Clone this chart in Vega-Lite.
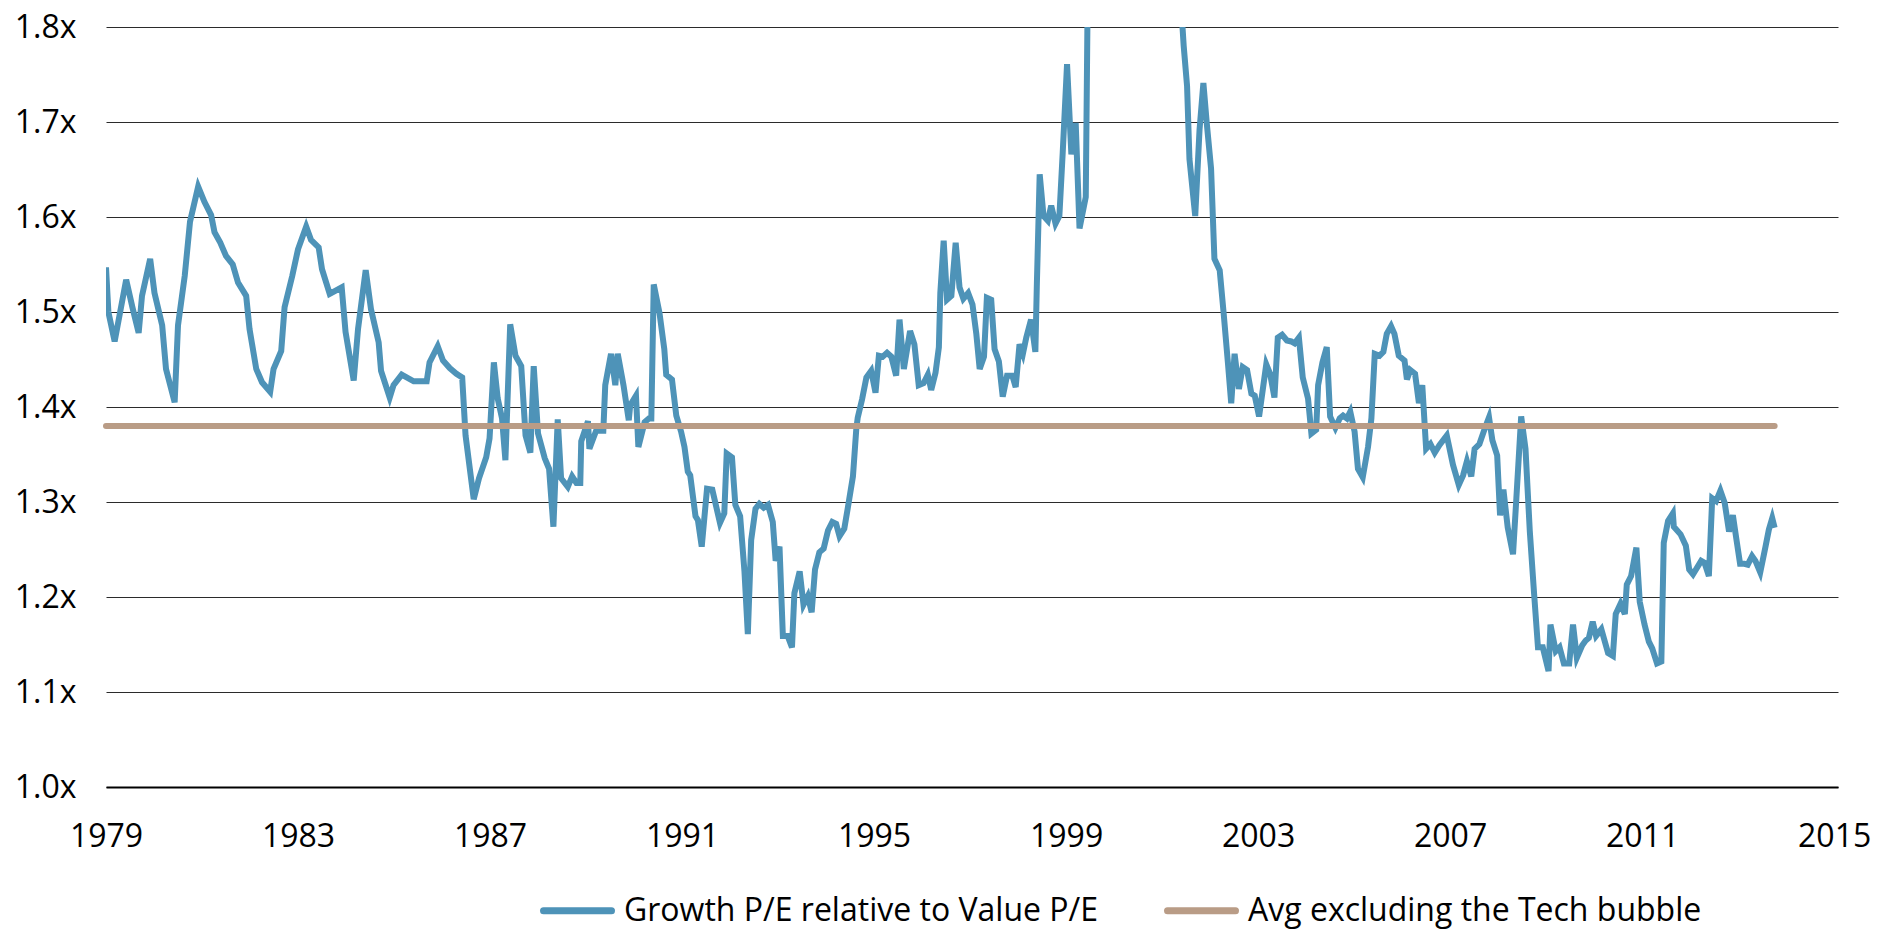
{
  "$schema": "https://vega.github.io/schema/vega-lite/v6.json",
  "autosize": {"type": "none"},
  "padding": {"left": 106, "top": 27, "right": 60, "bottom": 145},
  "width": 1732,
  "height": 760,
  "background": "white",
  "config": {
    "view": {"stroke": null},
    "font": "Open Sans"
  },
  "datasets": {
    "growth": [
      {"t":1979.00,"v":1.547},{"t":1979.05,"v":1.500},{"t":1979.18,"v":1.469},{"t":1979.42,"v":1.534},{"t":1979.55,"v":1.505},{"t":1979.68,"v":1.478},{"t":1979.75,"v":1.517},{"t":1979.92,"v":1.556},
      {"t":1980.01,"v":1.520},{"t":1980.17,"v":1.486},{"t":1980.25,"v":1.440},{"t":1980.43,"v":1.405},{"t":1980.50,"v":1.486},{"t":1980.64,"v":1.538},{"t":1980.75,"v":1.595},{"t":1980.92,"v":1.632},
      {"t":1981.05,"v":1.616},{"t":1981.19,"v":1.602},{"t":1981.26,"v":1.584},{"t":1981.38,"v":1.573},{"t":1981.50,"v":1.559},{"t":1981.64,"v":1.550},{"t":1981.75,"v":1.531},{"t":1981.92,"v":1.517},{"t":1981.99,"v":1.482},
      {"t":1982.13,"v":1.440},{"t":1982.25,"v":1.426},{"t":1982.42,"v":1.416},{"t":1982.49,"v":1.440},{"t":1982.65,"v":1.459},{"t":1982.72,"v":1.505},{"t":1982.88,"v":1.538},
      {"t":1983.00,"v":1.566},{"t":1983.17,"v":1.590},{"t":1983.27,"v":1.576},{"t":1983.43,"v":1.568},{"t":1983.50,"v":1.545},{"t":1983.66,"v":1.519},{"t":1983.91,"v":1.526},{"t":1983.99,"v":1.479},
      {"t":1984.16,"v":1.428},{"t":1984.25,"v":1.482},{"t":1984.41,"v":1.544},{"t":1984.52,"v":1.503},{"t":1984.68,"v":1.468},{"t":1984.73,"v":1.438},{"t":1984.91,"v":1.410},{"t":1984.99,"v":1.423},
      {"t":1985.16,"v":1.434},{"t":1985.41,"v":1.427},{"t":1985.68,"v":1.427},{"t":1985.74,"v":1.447},{"t":1985.91,"v":1.464},
      {"t":1986.02,"v":1.449},{"t":1986.16,"v":1.441},{"t":1986.30,"v":1.435},{"t":1986.42,"v":1.431},{"t":1986.49,"v":1.370},{"t":1986.66,"v":1.303},{"t":1986.77,"v":1.325},{"t":1986.92,"v":1.347},{"t":1986.99,"v":1.367},
      {"t":1987.08,"v":1.447},{"t":1987.16,"v":1.409},{"t":1987.25,"v":1.388},{"t":1987.32,"v":1.344},{"t":1987.42,"v":1.487},{"t":1987.53,"v":1.454},{"t":1987.65,"v":1.443},{"t":1987.74,"v":1.370},{"t":1987.84,"v":1.352},{"t":1987.91,"v":1.443},
      {"t":1988.00,"v":1.372},{"t":1988.14,"v":1.346},{"t":1988.23,"v":1.335},{"t":1988.32,"v":1.274},{"t":1988.41,"v":1.387},{"t":1988.48,"v":1.325},{"t":1988.62,"v":1.316},{"t":1988.71,"v":1.327},{"t":1988.80,"v":1.320},{"t":1988.88,"v":1.320},{"t":1988.90,"v":1.364},
      {"t":1989.04,"v":1.385},{"t":1989.07,"v":1.356},{"t":1989.21,"v":1.375},{"t":1989.36,"v":1.375},{"t":1989.40,"v":1.423},{"t":1989.52,"v":1.456},{"t":1989.61,"v":1.423},{"t":1989.66,"v":1.456},{"t":1989.78,"v":1.423},{"t":1989.89,"v":1.386},{"t":1989.92,"v":1.402},
      {"t":1990.04,"v":1.412},{"t":1990.09,"v":1.358},{"t":1990.22,"v":1.384},{"t":1990.31,"v":1.388},{"t":1990.36,"v":1.388},{"t":1990.41,"v":1.529},{"t":1990.53,"v":1.499},{"t":1990.63,"v":1.461},{"t":1990.67,"v":1.434},{"t":1990.79,"v":1.429},{"t":1990.88,"v":1.391},{"t":1990.98,"v":1.374},
      {"t":1991.05,"v":1.358},{"t":1991.12,"v":1.332},{"t":1991.17,"v":1.328},{"t":1991.28,"v":1.285},{"t":1991.33,"v":1.281},{"t":1991.41,"v":1.253},{"t":1991.52,"v":1.314},{"t":1991.63,"v":1.313},{"t":1991.79,"v":1.278},{"t":1991.88,"v":1.288},{"t":1991.93,"v":1.351},
      {"t":1992.04,"v":1.347},{"t":1992.11,"v":1.297},{"t":1992.21,"v":1.285},{"t":1992.30,"v":1.227},{"t":1992.37,"v":1.161},{"t":1992.44,"v":1.260},{"t":1992.53,"v":1.293},{"t":1992.61,"v":1.298},{"t":1992.70,"v":1.294},{"t":1992.79,"v":1.297},{"t":1992.89,"v":1.279},{"t":1992.95,"v":1.238},
      {"t":1993.03,"v":1.253},{"t":1993.10,"v":1.159},{"t":1993.20,"v":1.159},{"t":1993.29,"v":1.147},{"t":1993.34,"v":1.204},{"t":1993.45,"v":1.227},{"t":1993.53,"v":1.192},{"t":1993.62,"v":1.201},{"t":1993.70,"v":1.184},{"t":1993.77,"v":1.229},{"t":1993.86,"v":1.247},{"t":1993.95,"v":1.251},
      {"t":1994.04,"v":1.270},{"t":1994.13,"v":1.279},{"t":1994.21,"v":1.277},{"t":1994.28,"v":1.264},{"t":1994.38,"v":1.272},{"t":1994.45,"v":1.293},{"t":1994.56,"v":1.327},{"t":1994.63,"v":1.377},{"t":1994.66,"v":1.389},{"t":1994.75,"v":1.408},{"t":1994.84,"v":1.431},{"t":1994.94,"v":1.438},
      {"t":1995.03,"v":1.415},{"t":1995.10,"v":1.454},{"t":1995.18,"v":1.453},{"t":1995.27,"v":1.457},{"t":1995.36,"v":1.453},{"t":1995.46,"v":1.433},{"t":1995.53,"v":1.492},{"t":1995.62,"v":1.440},{"t":1995.75,"v":1.480},{"t":1995.84,"v":1.466},{"t":1995.93,"v":1.423},
      {"t":1996.03,"v":1.425},{"t":1996.12,"v":1.434},{"t":1996.19,"v":1.418},{"t":1996.28,"v":1.436},{"t":1996.35,"v":1.463},{"t":1996.38,"v":1.520},{"t":1996.45,"v":1.575},{"t":1996.52,"v":1.513},{"t":1996.61,"v":1.517},{"t":1996.70,"v":1.573},{"t":1996.78,"v":1.526},{"t":1996.86,"v":1.514},{"t":1996.96,"v":1.520},
      {"t":1997.05,"v":1.508},{"t":1997.13,"v":1.477},{"t":1997.20,"v":1.440},{"t":1997.29,"v":1.453},{"t":1997.35,"v":1.515},{"t":1997.44,"v":1.513},{"t":1997.51,"v":1.461},{"t":1997.60,"v":1.448},{"t":1997.68,"v":1.411},{"t":1997.77,"v":1.433},{"t":1997.88,"v":1.433},{"t":1997.95,"v":1.421},
      {"t":1998.03,"v":1.466},{"t":1998.10,"v":1.456},{"t":1998.17,"v":1.473},{"t":1998.27,"v":1.492},{"t":1998.36,"v":1.458},{"t":1998.39,"v":1.527},{"t":1998.45,"v":1.645},{"t":1998.53,"v":1.601},{"t":1998.62,"v":1.596},{"t":1998.69,"v":1.612},{"t":1998.78,"v":1.593},{"t":1998.86,"v":1.601},{"t":1998.93,"v":1.668},
      {"t":1999.02,"v":1.761},{"t":1999.11,"v":1.666},{"t":1999.20,"v":1.699},{"t":1999.28,"v":1.588},{"t":1999.41,"v":1.621},{"t":1999.50,"v":2.10},{"t":1999.60,"v":2.25},{"t":1999.75,"v":2.40},{"t":1999.90,"v":2.55},
      {"t":2000.05,"v":2.70},{"t":2000.20,"v":2.65},{"t":2000.35,"v":2.55},{"t":2000.50,"v":2.45},{"t":2000.70,"v":2.35},{"t":2000.90,"v":2.20},{"t":2001.10,"v":2.05},{"t":2001.30,"v":1.90},
      {"t":2001.45,"v":1.780},{"t":2001.52,"v":1.738},{"t":2001.57,"v":1.661},{"t":2001.69,"v":1.601},{"t":2001.78,"v":1.692},{"t":2001.86,"v":1.741},{"t":2001.93,"v":1.699},
      {"t":2002.02,"v":1.651},{"t":2002.09,"v":1.556},{"t":2002.20,"v":1.544},{"t":2002.28,"v":1.500},{"t":2002.37,"v":1.447},{"t":2002.44,"v":1.404},{"t":2002.51,"v":1.456},{"t":2002.60,"v":1.419},{"t":2002.68,"v":1.442},{"t":2002.77,"v":1.439},{"t":2002.86,"v":1.414},{"t":2002.93,"v":1.412},
      {"t":2003.02,"v":1.390},{"t":2003.17,"v":1.445},{"t":2003.25,"v":1.435},{"t":2003.34,"v":1.410},{"t":2003.41,"v":1.473},{"t":2003.50,"v":1.476},{"t":2003.60,"v":1.470},{"t":2003.69,"v":1.469},{"t":2003.76,"v":1.467},{"t":2003.85,"v":1.473},{"t":2003.93,"v":1.431},
      {"t":2004.04,"v":1.409},{"t":2004.11,"v":1.372},{"t":2004.21,"v":1.376},{"t":2004.25,"v":1.423},{"t":2004.34,"v":1.447},{"t":2004.43,"v":1.463},{"t":2004.50,"v":1.390},{"t":2004.61,"v":1.378},{"t":2004.70,"v":1.388},{"t":2004.77,"v":1.391},{"t":2004.85,"v":1.388},{"t":2004.92,"v":1.395},
      {"t":2005.01,"v":1.374},{"t":2005.08,"v":1.335},{"t":2005.18,"v":1.326},{"t":2005.29,"v":1.358},{"t":2005.36,"v":1.388},{"t":2005.43,"v":1.456},{"t":2005.53,"v":1.454},{"t":2005.61,"v":1.458},{"t":2005.68,"v":1.477},{"t":2005.77,"v":1.485},{"t":2005.84,"v":1.477},{"t":2005.93,"v":1.454},
      {"t":2006.05,"v":1.449},{"t":2006.10,"v":1.429},{"t":2006.17,"v":1.439},{"t":2006.27,"v":1.435},{"t":2006.35,"v":1.404},{"t":2006.42,"v":1.423},{"t":2006.50,"v":1.356},{"t":2006.59,"v":1.361},{"t":2006.68,"v":1.352},{"t":2006.78,"v":1.360},{"t":2006.93,"v":1.370},
      {"t":2007.06,"v":1.339},{"t":2007.18,"v":1.318},{"t":2007.27,"v":1.328},{"t":2007.35,"v":1.343},{"t":2007.44,"v":1.327},{"t":2007.51,"v":1.356},{"t":2007.61,"v":1.361},{"t":2007.72,"v":1.377},{"t":2007.81,"v":1.389},{"t":2007.88,"v":1.365},{"t":2007.98,"v":1.349},
      {"t":2008.04,"v":1.286},{"t":2008.11,"v":1.313},{"t":2008.20,"v":1.273},{"t":2008.31,"v":1.245},{"t":2008.38,"v":1.304},{"t":2008.48,"v":1.390},{"t":2008.57,"v":1.356},{"t":2008.66,"v":1.269},{"t":2008.75,"v":1.203},{"t":2008.83,"v":1.147},{"t":2008.93,"v":1.147},
      {"t":2009.05,"v":1.122},{"t":2009.09,"v":1.171},{"t":2009.20,"v":1.143},{"t":2009.28,"v":1.147},{"t":2009.37,"v":1.130},{"t":2009.48,"v":1.130},{"t":2009.56,"v":1.171},{"t":2009.64,"v":1.136},{"t":2009.75,"v":1.149},{"t":2009.82,"v":1.154},{"t":2009.89,"v":1.157},{"t":2009.97,"v":1.174},
      {"t":2010.04,"v":1.159},{"t":2010.15,"v":1.166},{"t":2010.29,"v":1.141},{"t":2010.39,"v":1.138},{"t":2010.45,"v":1.182},{"t":2010.55,"v":1.193},{"t":2010.64,"v":1.182},{"t":2010.68,"v":1.213},{"t":2010.77,"v":1.222},{"t":2010.88,"v":1.252},{"t":2010.95,"v":1.195},
      {"t":2011.05,"v":1.171},{"t":2011.14,"v":1.153},{"t":2011.21,"v":1.146},{"t":2011.31,"v":1.130},{"t":2011.40,"v":1.132},{"t":2011.45,"v":1.257},{"t":2011.54,"v":1.280},{"t":2011.64,"v":1.288},{"t":2011.66,"v":1.274},{"t":2011.80,"v":1.266},{"t":2011.91,"v":1.254},{"t":2011.98,"v":1.229},
      {"t":2012.06,"v":1.224},{"t":2012.23,"v":1.238},{"t":2012.30,"v":1.236},{"t":2012.39,"v":1.222},{"t":2012.46,"v":1.304},{"t":2012.54,"v":1.301},{"t":2012.63,"v":1.312},{"t":2012.72,"v":1.299},{"t":2012.81,"v":1.269},{"t":2012.89,"v":1.286},{"t":2012.96,"v":1.262},
      {"t":2013.04,"v":1.235},{"t":2013.13,"v":1.235},{"t":2013.20,"v":1.234},{"t":2013.29,"v":1.243},{"t":2013.36,"v":1.238},{"t":2013.46,"v":1.226},{"t":2013.57,"v":1.253},{"t":2013.64,"v":1.271},{"t":2013.71,"v":1.283},{"t":2013.76,"v":1.273}
    ],
    "avg": [
      {"t":1979.0,"v":1.38},{"t":2013.76,"v":1.38}
    ]
  },
  "encoding": {
    "x": {
      "field": "t", "type": "quantitative",
      "scale": {"domain": [1979, 2015.08], "nice": false, "zero": false},
      "axis": {
        "title": null,
        "values": [1979, 1983, 1987, 1991, 1995, 1999, 2003, 2007, 2011, 2015],
        "format": "d",
        "grid": false,
        "ticks": false,
        "domain": true,
        "domainColor": "#000000",
        "domainWidth": 2,
        "labelFont": "Open Sans",
        "labelFontSize": 32,
        "labelColor": "#000000",
        "labelPadding": 34,
        "labelFlush": false,
        "labelOverlap": false
      }
    },
    "y": {
      "field": "v", "type": "quantitative",
      "scale": {"domain": [1.0, 1.8], "nice": false, "zero": false},
      "axis": {
        "title": null,
        "values": [1.0, 1.1, 1.2, 1.3, 1.4, 1.5, 1.6, 1.7, 1.8],
        "labelExpr": "format(datum.value, '.1f') + 'x'",
        "grid": true,
        "gridColor": "#2b2b2b",
        "gridWidth": 1,
        "ticks": false,
        "domain": false,
        "labelFont": "Open Sans",
        "labelFontSize": 32,
        "labelColor": "#000000",
        "labelPadding": 30,
        "labelFlush": false,
        "labelOverlap": false
      }
    }
  },
  "layer": [
    {
      "data": {"name": "growth"},
      "mark": {"type": "line", "clip": true, "strokeWidth": 6, "strokeJoin": "miter"},
      "encoding": {
        "color": {
          "datum": "Growth P/E relative to Value P/E",
          "type": "nominal",
          "scale": {
            "domain": ["Growth P/E relative to Value P/E", "Avg excluding the Tech bubble"],
            "range": ["#4e93b8", "#b99c86"]
          },
          "legend": {
            "title": null,
            "orient": "none",
            "direction": "horizontal",
            "legendX": 434,
            "legendY": 846,
            "padding": 0,
            "symbolType": "stroke",
            "symbolSize": 4624,
            "symbolStrokeWidth": 7,
            "labelFont": "Open Sans",
            "labelFontSize": 32,
            "labelColor": "#000000",
            "labelOffset": 9,
            "columnPadding": 54,
            "labelLimit": 0,
            "encode": {"symbols": {"update": {"strokeCap": {"value": "round"}}}}
          }
        }
      }
    },
    {
      "data": {"name": "avg"},
      "mark": {"type": "line", "strokeWidth": 6, "strokeCap": "round"},
      "encoding": {
        "color": {"datum": "Avg excluding the Tech bubble", "type": "nominal"}
      }
    }
  ]
}
